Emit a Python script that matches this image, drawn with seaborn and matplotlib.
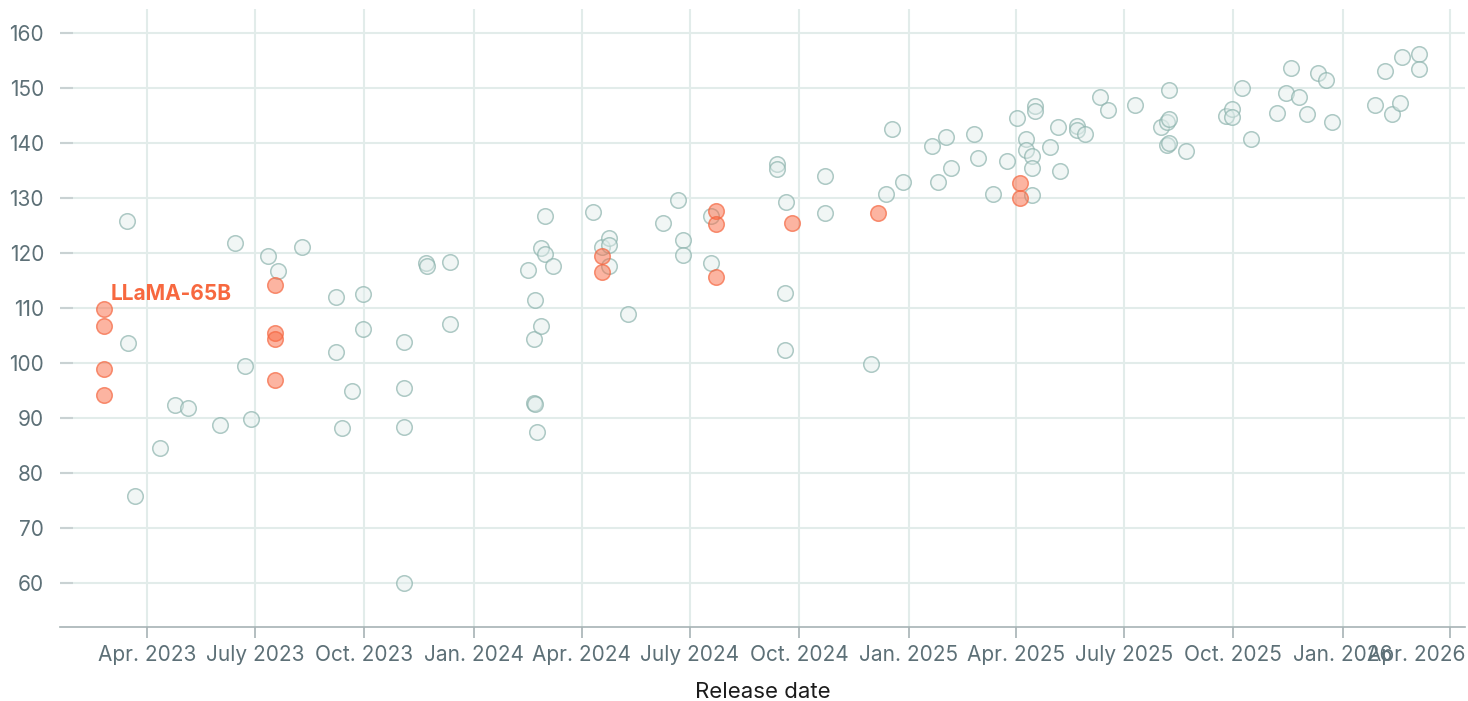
import matplotlib
matplotlib.use("Agg")
import matplotlib.pyplot as plt
import matplotlib.transforms as mtransforms
import seaborn as sns
import pandas as pd

# ---------------- data ----------------
other_dates = [
    "2023-03-15", "2023-03-16", "2023-03-22", "2023-04-12", "2023-04-25", "2023-05-06",
    "2023-06-02", "2023-06-14", "2023-06-23", "2023-06-28", "2023-07-12", "2023-07-20",
    "2023-08-10", "2023-09-07", "2023-09-07", "2023-09-12", "2023-09-21", "2023-09-30",
    "2023-09-30", "2023-11-03", "2023-11-03", "2023-11-03", "2023-11-03", "2023-11-22",
    "2023-11-23", "2023-12-12", "2023-12-12",
    "2024-02-16", "2024-02-21", "2024-02-21", "2024-02-22", "2024-02-22", "2024-02-23",
    "2024-02-27", "2024-02-27", "2024-03-01", "2024-03-01", "2024-03-08", "2024-04-10",
    "2024-04-18", "2024-04-24", "2024-04-24", "2024-04-24", "2024-05-10", "2024-06-08",
    "2024-06-21", "2024-06-25", "2024-06-25", "2024-07-19", "2024-07-19", "2024-09-12",
    "2024-09-12", "2024-09-19", "2024-09-19", "2024-09-20", "2024-10-23", "2024-10-23",
    "2024-11-30", "2024-12-13", "2024-12-18", "2024-12-27",
    "2025-01-21", "2025-01-26", "2025-02-01", "2025-02-06", "2025-02-25", "2025-02-28",
    "2025-03-13", "2025-03-25", "2025-04-02", "2025-04-10", "2025-04-10", "2025-04-15",
    "2025-04-15", "2025-04-15", "2025-04-17", "2025-04-17", "2025-04-30", "2025-05-07",
    "2025-05-08", "2025-05-23", "2025-05-23", "2025-05-29", "2025-06-11", "2025-06-18",
    "2025-07-10", "2025-08-01", "2025-08-06", "2025-08-06", "2025-08-08", "2025-08-08",
    "2025-08-08", "2025-08-22", "2025-09-25", "2025-09-30", "2025-09-30", "2025-10-08",
    "2025-10-16", "2025-11-07", "2025-11-14", "2025-11-19", "2025-11-25", "2025-12-02",
    "2025-12-11", "2025-12-18", "2025-12-23",
    "2026-01-28", "2026-02-06", "2026-02-12", "2026-02-18", "2026-02-20", "2026-03-06",
    "2026-03-06",
]
other_scores = [
    125.9, 103.6, 75.9, 84.6, 92.4, 91.8,
    88.8, 121.8, 99.5, 89.9, 119.5, 116.8,
    121.1, 112.1, 102.1, 88.3, 95.0, 112.6,
    106.2, 103.9, 95.4, 88.4, 60.1, 118.2,
    117.6, 118.4, 107.1,
    117.0, 104.3, 92.7, 92.6, 111.4, 87.4,
    121.0, 106.8, 126.8, 119.9, 117.6, 127.4,
    121.1, 122.7, 121.4, 117.6, 109.0, 125.5,
    129.7, 122.4, 119.6, 126.8, 118.2, 136.2,
    135.3, 102.4, 112.7, 129.3, 134.0, 127.3,
    99.9, 130.8, 142.5, 132.9,
    139.5, 133.0, 141.1, 135.4, 141.7, 137.2,
    130.8, 136.7, 144.5, 140.8, 138.8, 137.6,
    135.4, 130.6, 146.8, 145.9, 139.3, 143.0,
    135.0, 143.1, 142.4, 141.7, 148.4, 146.0,
    146.9, 142.9, 143.9, 139.7, 144.4, 140.0,
    149.7, 138.6, 145.0, 146.2, 144.7, 150.0,
    140.7, 145.5, 149.1, 153.6, 148.4, 145.2,
    152.7, 151.5, 143.9,
    147.0, 153.0, 145.3, 147.3, 155.7, 156.2,
    153.5,
]

llama_dates = [
    "2023-02-24", "2023-02-24", "2023-02-24", "2023-02-24",
    "2023-07-18", "2023-07-18", "2023-07-18", "2023-07-18",
    "2024-04-18", "2024-04-18",
    "2024-07-23", "2024-07-23", "2024-07-23",
    "2024-09-25", "2024-12-06",
    "2025-04-05", "2025-04-05",
]
llama_scores = [
    109.9, 106.8, 98.9, 94.2,
    114.2, 105.5, 104.4, 97.0,
    119.4, 116.6,
    127.7, 125.2, 115.6,
    125.5, 127.2,
    132.8, 130.0,
]
annot_label = "LLaMA-65B"
annot_date = "2023-02-24"
annot_score = 109.9

tick_dates = ["2023-04-01", "2023-07-01", "2023-10-01", "2024-01-01", "2024-04-01",
              "2024-07-01", "2024-10-01", "2025-01-01", "2025-04-01", "2025-07-01",
              "2025-10-01", "2026-01-01", "2026-04-01"]
tick_labels = ["Apr. 2023", "July 2023", "Oct. 2023", "Jan. 2024", "Apr. 2024",
               "July 2024", "Oct. 2024", "Jan. 2025", "Apr. 2025", "July 2025",
               "Oct. 2025", "Jan. 2026", "Apr. 2026"]
y_ticks = [60, 70, 80, 90, 100, 110, 120, 130, 140, 150, 160]

# ---------------- style ----------------
sns.set_theme(style="white")
plt.rcParams["font.family"] = ["Inter", "DejaVu Sans"]

GRID = "#e2ecea"
TICKC = "#5d7077"
ORANGE = "#f7683f"

df_other = pd.DataFrame({"date": pd.to_datetime(other_dates), "score": other_scores})
df_llama = pd.DataFrame({"date": pd.to_datetime(llama_dates), "score": llama_scores})

W, H = 1468, 701
fig = plt.figure(figsize=(W / 100, H / 100), dpi=100)
ax = fig.add_axes([60 / W, (H - 627.3) / H, (1465 - 60) / W, (627.3 - 9.3) / H])

sns.scatterplot(data=df_other, x="date", y="score", ax=ax, s=125,
                facecolor=(0.88, 0.93, 0.92, 0.45), edgecolor=(0.55, 0.70, 0.68, 0.7),
                linewidth=1.1, zorder=3, legend=False)
sns.scatterplot(data=df_llama, x="date", y="score", ax=ax, s=125,
                facecolor=(0.98, 0.42, 0.27, 0.5), edgecolor=(0.96, 0.40, 0.25, 0.7),
                linewidth=1.1, zorder=4, legend=False)

ax.annotate(annot_label, xy=(pd.Timestamp(annot_date), annot_score),
            xytext=(4.5, 10.8), textcoords="offset points",
            ha="left", va="center", color=ORANGE, fontsize=15, fontweight="bold", zorder=5)

ax.set_xlim(pd.Timestamp("2023-01-18"), pd.Timestamp("2026-04-14"))
ax.set_ylim(52, 164.3)

ax.set_xticks(pd.to_datetime(tick_dates))
ax.set_xticklabels(tick_labels)
ax.set_yticks(y_ticks)

ax.grid(True, color=GRID, linewidth=1.5, zorder=0)
ax.set_axisbelow(True)
for side in ["top", "right", "left"]:
    ax.spines[side].set_visible(False)
ax.spines["bottom"].set_color("#a7b3b5")
ax.spines["bottom"].set_linewidth(1.2)

ax.tick_params(axis="x", direction="out", length=8, width=1.2, color="#a7b3b5",
               labelsize=15, labelcolor=TICKC, pad=5, bottom=True)
ax.tick_params(axis="y", direction="in", length=9.5, width=1.5, color="#c9d2d3",
               labelsize=15, labelcolor=TICKC, pad=11.5, left=True)

# last tick label is pulled inward to stay in the figure
last = ax.get_xticklabels()[-1]
last.set_transform(last.get_transform() + mtransforms.ScaledTranslation(-33 / 100, 0, fig.dpi_scale_trans))

ax.set_xlabel("Release date", fontsize=16, color="#1b1b1b", labelpad=12)
ax.set_ylabel("")

fig.savefig("out.png", dpi=100)
